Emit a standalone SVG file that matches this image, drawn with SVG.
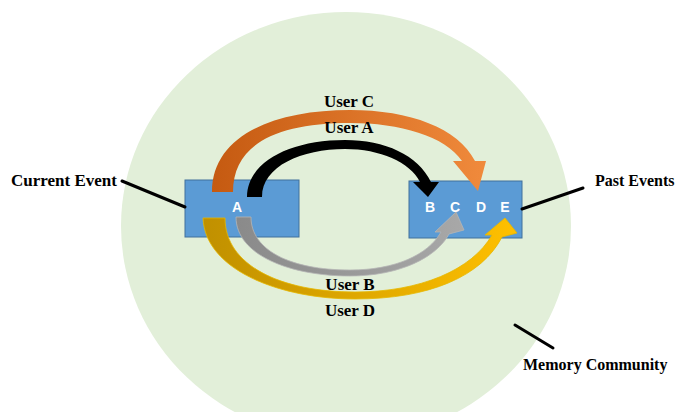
<svg xmlns="http://www.w3.org/2000/svg" width="679" height="412" viewBox="0 0 679 412">
<style>
.lbl{font-family:"Liberation Serif","Times New Roman",serif;font-weight:bold;fill:#000;}
.ltr{font-family:"Liberation Sans",Arial,sans-serif;font-weight:bold;font-size:14px;fill:#fff;text-anchor:middle;}
.box{fill:#5b9bd5;stroke:#41719c;stroke-width:1;}
.lead{stroke:#000;stroke-width:3;fill:none;stroke-linecap:round;}
</style>
<defs>
<linearGradient id="gO" x1="0" y1="0" x2="1" y2="0"><stop offset="0" stop-color="#c55a11"/><stop offset="1" stop-color="#f08a3c"/></linearGradient>
<linearGradient id="gY" x1="0" y1="0" x2="1" y2="0"><stop offset="0" stop-color="#c09000"/><stop offset="1" stop-color="#ffc000"/></linearGradient>
<linearGradient id="gG" x1="0" y1="0" x2="1" y2="0"><stop offset="0" stop-color="#8a8a8a"/><stop offset="1" stop-color="#a8a8a8"/></linearGradient>
</defs>
<rect width="679" height="412" fill="#fff"/>
<g id="community"><ellipse cx="346" cy="226" rx="225" ry="214" fill="#e2efd9"/></g>
<g id="current"><rect class="box" x="185" y="180" width="114" height="57"/><text class="ltr" x="237" y="212">A</text></g>
<g id="past"><rect class="box" x="409" y="181" width="113" height="57"/></g>
<g id="connectors">
<path id="userC" d="M212,192 C212,135 275,110 350,110 C410,110 458,128 475,161 L486,161 L478,191 L453,161 L462,161 C445,136 400,123 350,123 C275,123 233,145 233,192 Z" fill="url(#gO)"/>
<path id="userA" d="M247,197 C247,162 290,140 345,140 C385,140 418,155 431,182 L439,182 L428,197 L413,182 L420,182 C410,162 380,149 345,149 C302,149 262,166 262,197 Z" fill="#000"/>
<path id="userB" d="M236,217 C236,255 290,276 350,276 C400,276 437,257 449,234 L464,230 L456,212 L435,232 L441,232 C428,255 395,270 350,270 C290,270 251,250 251,217 Z" fill="url(#gG)" stroke="#b5b5b5" stroke-width="0.8"/>
<path id="userD" d="M203,218 C205,270 280,299 355,299 C430,299 482,276 502,237 L517,233 L505,218 L485,235 L492,235 C472,270 420,292 355,292 C280,292 225,265 225,218 Z" fill="url(#gY)" stroke="#e6b800" stroke-width="0.8"/>
<line class="lead" x1="122" y1="181" x2="185" y2="207"/>
<line class="lead" x1="522" y1="209" x2="583" y2="188"/>
<line class="lead" x1="515" y1="325" x2="553" y2="348"/>
</g>
<g id="letters"><text class="ltr" x="430" y="212">B</text><text class="ltr" x="455" y="212">C</text><text class="ltr" x="481" y="212">D</text><text class="ltr" x="505" y="212">E</text></g>
<g id="labels">
<text class="lbl" x="349" y="107" font-size="17" text-anchor="middle">User C</text>
<text class="lbl" x="349" y="133" font-size="17" text-anchor="middle">User A</text>
<text class="lbl" x="350" y="290" font-size="17" text-anchor="middle">User B</text>
<text class="lbl" x="350" y="316" font-size="17" text-anchor="middle">User D</text>
<text class="lbl" x="11" y="186" font-size="17">Current Event</text>
<text class="lbl" x="595" y="186" font-size="16">Past Events</text>
<text class="lbl" x="523" y="370" font-size="16">Memory Community</text>
</g>
</svg>
